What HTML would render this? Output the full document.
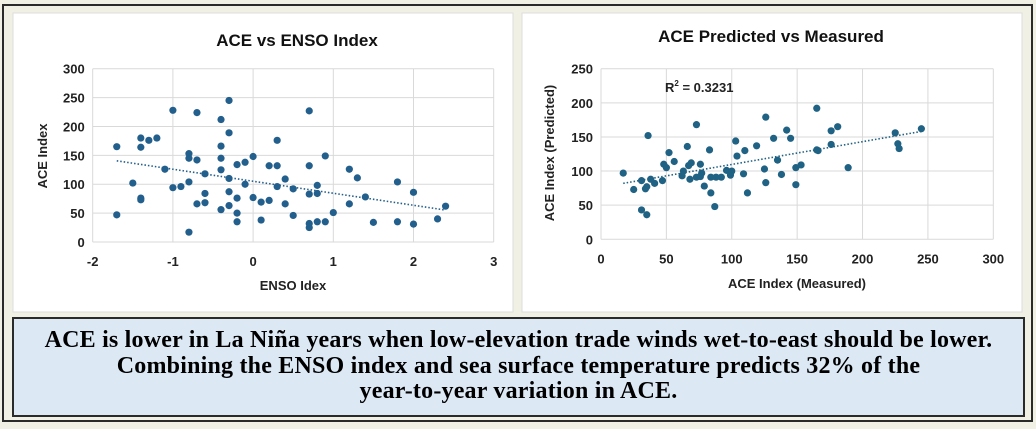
<!DOCTYPE html>
<html><head><meta charset="utf-8"><style>
body{margin:0;background:#f1f0e4;width:1036px;height:429px;overflow:hidden;font-family:"Liberation Sans",sans-serif}
svg{position:absolute;left:0;top:0}
#note{position:absolute;left:12px;top:317px;width:1013px;height:100px;background:#dde8f5;border:2px solid #2a2a2a;box-sizing:border-box;text-align:center;font-family:"Liberation Serif",serif;font-weight:bold;font-size:24px;line-height:25.5px;color:#000;padding-top:9px;letter-spacing:0.2px;white-space:nowrap}
</style></head><body>
<svg id="svg" width="1036" height="429">
<rect x="3" y="5" width="1029" height="416" fill="none" stroke="#2a2a2a" stroke-width="2"/>
<rect x="13" y="13" width="500" height="299" fill="#fff" stroke="#ddd"/>
<rect x="522" y="13" width="500" height="299" fill="#fff" stroke="#ddd"/>
<g id="left"></g><g id="right"></g>
</svg>
<div id="note">ACE is lower in La Niña years when low-elevation trade winds wet-to-east should be lower.<br>Combining the ENSO index and sea surface temperature predicts 32% of the<br>year-to-year variation in ACE.</div>
<script>
const ensoX=[-1.7,-1.7,-1.5,-1.4,-1.4,-1.4,-1.4,-1.3,-1.2,-1.1,-1.0,-1.0,-0.9,-0.8,-0.8,-0.8,-0.8,-0.7,-0.7,-0.7,-0.6,-0.6,-0.6,-0.4,-0.4,-0.4,-0.4,-0.4,-0.3,-0.3,-0.3,-0.3,-0.3,-0.2,-0.2,-0.2,-0.2,-0.1,-0.1,0,0,0.1,0.1,0.2,0.2,0.3,0.3,0.3,0.4,0.4,0.5,0.5,0.7,0.7,0.7,0.7,0.7,0.8,0.8,0.8,0.9,0.9,1.0,1.2,1.2,1.3,1.4,1.5,1.8,1.8,2.0,2.0,2.3,2.4];
const aceY=[165,47,102,180,164,76,73,176,180,126,228,94,96,153,145,104,17,224,142,66,118,84,68,212,166,145,125,56,245,189,110,87,63,134,76,50,35,138,100,148,77,69,38,132,72,176,132,96,109,66,92,46,227,132,83,32,25,98,84,35,149,35,51,126,66,111,78,34,104,35,86,31,40,62];
const measX=[17,25,31,31,34,35,35,36,38,41,47,48,50,52,56,62,63,66,67,68,69,73,73,76,77,76,79,83,84,84,87,88,92,96,99,100,103,104,109,110,112,119,125,126,126,132,135,138,142,145,149,149,153,165,165,166,176,176,181,189,225,227,228,245];
const predY=[97,73,86,43,74,77,36,152,88,82,86,110,105,127,114,93,100,136,108,88,112,168,91,110,97,92,78,131,68,91,48,91,91,101,94,100,144,122,96,130,68,137,103,179,83,148,116,95,160,148,105,80,109,131,192,130,139,159,165,105,156,140,133,162];
const leftXTicks=[-2,-1,0,1,2,3];
const leftYTicks=[0,50,100,150,200,250,300];
const rightXTicks=[0,50,100,150,200,250,300];
const rightYTicks=[0,50,100,150,200,250];
const NS='http://www.w3.org/2000/svg';
function mk(p,t,a,txt){const e=document.createElementNS(NS,t);for(const k in a)e.setAttribute(k,a[k]);if(txt!==undefined)e.textContent=txt;p.appendChild(e);return e;}
function fit(xs,ys){const n=xs.length;let sx=0,sy=0,sxx=0,sxy=0;for(let i=0;i<n;i++){sx+=xs[i];sy+=ys[i];sxx+=xs[i]*xs[i];sxy+=xs[i]*ys[i];}const b=(n*sxy-sx*sy)/(n*sxx-sx*sx);return [b,(sy-b*sx)/n];}
function chart(g,o){
 const X=v=>o.x0+(v-o.xmin)/(o.xmax-o.xmin)*(o.x1-o.x0);
 const Y=v=>o.y0-(v-o.ymin)/(o.ymax-o.ymin)*(o.y0-o.y1);
 o.xt.forEach(t=>{let l=mk(g,'line',{x1:X(t),x2:X(t),y1:o.y1,y2:o.y0,stroke:'#d9d9d9'});
  
  
  let s=mk(g,'text',{x:X(t),y:o.y0+24,'text-anchor':'middle','font-size':13,'font-weight':'bold',fill:'#222'},t);
  
  });
 o.yt.forEach(t=>{let l=mk(g,'line',{x1:o.x0,x2:o.x1,y1:Y(t),y2:Y(t),stroke:'#d9d9d9'});
  
  
  let s=mk(g,'text',{x:o.x0-8,y:Y(t)+5,'text-anchor':'end','font-size':13,'font-weight':'bold',fill:'#222'},t);
  
  });
 const [b,a]=fit(o.xs,o.ys);const mn=Math.min(...o.xs),mx=Math.max(...o.xs);
 let tl=mk(g,'line',{x1:X(mn),y1:Y(a+b*mn),x2:X(mx),y2:Y(a+b*mx),stroke:o.c,'stroke-width':1.6,'stroke-dasharray':'1.5 2'});
 
 
 o.xs.forEach((v,i)=>{let c=mk(g,'circle',{cx:X(v),cy:Y(o.ys[i]),r:3.6,fill:o.c});
  
  });
 let t=mk(g,'text',{x:o.tx,y:o.ty,'text-anchor':'middle','font-size':17,'font-weight':'bold',fill:'#111'},o.title);
 
 
 let xt=mk(g,'text',{x:o.xtx,y:o.xty,'text-anchor':'middle','font-size':13,'font-weight':'bold',fill:'#222'},o.xl);
 
 
 let yt=mk(g,'text',{x:0,y:0,'text-anchor':'middle','font-size':13,'font-weight':'bold',fill:'#222',transform:`translate(${o.ytx},${o.yty}) rotate(-90)`},o.yl);
 
 
}
chart(document.getElementById('left'),{x0:92.7,x1:493.7,y0:242,y1:68.7,xmin:-2,xmax:3,ymin:0,ymax:300,xt:leftXTicks,yt:leftYTicks,xs:ensoX,ys:aceY,c:'#235f8d',title:'ACE vs ENSO Index',tx:297,ty:46,xl:'ENSO Idex',xtx:293,xty:290,yl:'ACE Index',ytx:47,yty:156});
chart(document.getElementById('right'),{x0:601,x1:993.3,y0:239.3,y1:68.7,xmin:0,xmax:300,ymin:0,ymax:250,xt:rightXTicks,yt:rightYTicks,xs:measX,ys:predY,c:'#1f6284',title:'ACE Predicted vs Measured',tx:771,ty:42,xl:'ACE Index (Measured)',xtx:797,xty:288,yl:'ACE Index (Predicted)',ytx:554,yty:153});
const r=mk(document.getElementById('right'),'text',{x:665,y:92,'font-size':13,'font-weight':'bold',fill:'#222'});


r.innerHTML='R<tspan dy="-6" font-size="8">2</tspan><tspan dy="6"> = 0.3231</tspan>';
</script>
</body></html>
